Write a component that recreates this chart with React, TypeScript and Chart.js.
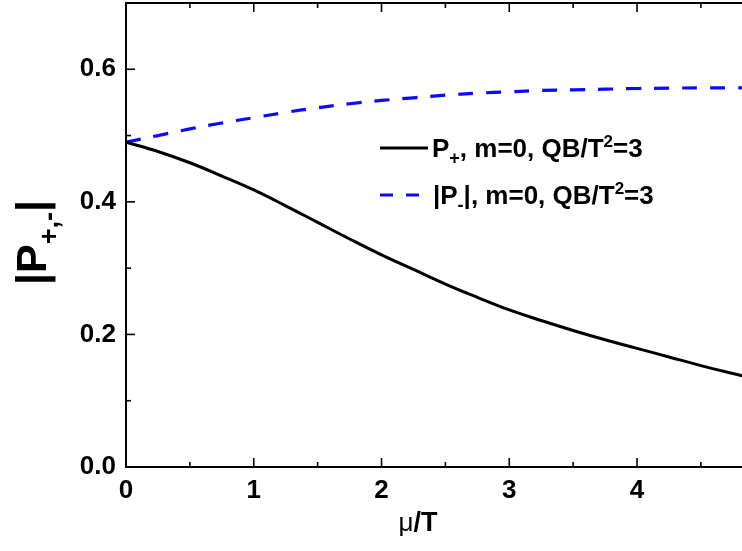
import { useEffect, useRef } from "react";
import { Chart, registerables } from "chart.js";

Chart.register(...registerables);

// μ/T sample points
const MU_OVER_T = [0, 0.25, 0.5, 0.75, 1, 1.25, 1.5, 1.75, 2, 2.25, 2.5, 2.75, 3, 3.25, 3.5, 3.75, 4, 4.25, 4.5, 4.75, 5];
// P+ , m=0, QB/T^2=3
const P_PLUS = [0.49, 0.476, 0.459, 0.439, 0.418, 0.394, 0.369, 0.344, 0.32, 0.298, 0.276, 0.256, 0.237, 0.221, 0.206, 0.192, 0.179, 0.166, 0.153, 0.141, 0.13];
// |P-| , m=0, QB/T^2=3
const P_MINUS_ABS = [0.49, 0.5, 0.51, 0.519, 0.527, 0.535, 0.542, 0.548, 0.553, 0.557, 0.561, 0.564, 0.566, 0.568, 0.569, 0.57, 0.571, 0.5715, 0.572, 0.572, 0.5725];

const X_MIN = 0;
const X_MAX = 5;
const Y_MIN = 0;
const Y_MAX = 0.7;
const X_MAJOR = 1;
const X_MINOR = 0.5;
const Y_MAJOR = 0.2;
const Y_MINOR = 0.1;
const Y_LABEL_MAX = 0.6;

const FONT = '"Liberation Sans", Arial, Helvetica, sans-serif';
const BLUE = "#0a0aff";

type Part = { text: string; size: number; dy: number; bold?: boolean };

function drawParts(ctx: CanvasRenderingContext2D, parts: Part[], x: number, y: number) {
  let cx = x;
  for (const p of parts) {
    ctx.font = `${p.bold === false ? "" : "bold "}${p.size}px ${FONT}`;
    ctx.fillText(p.text, cx, y + p.dy);
    cx += ctx.measureText(p.text).width;
  }
  return cx;
}

const decorations = {
  id: "decorations",
  afterDraw(chart: any) {
    const { ctx, chartArea, scales } = chart;
    const { left, right, top, bottom } = chartArea;
    const xs = scales.x;
    const ys = scales.y;
    ctx.save();

    // frame
    ctx.strokeStyle = "#000";
    ctx.lineWidth = 2;
    ctx.strokeRect(left, top, right - left, bottom - top);

    // inward ticks on all four sides
    ctx.lineWidth = 1.6;
    const seg = (x1: number, y1: number, x2: number, y2: number) => {
      ctx.beginPath();
      ctx.moveTo(x1, y1);
      ctx.lineTo(x2, y2);
      ctx.stroke();
    };
    const nx = Math.round((X_MAX - X_MIN) / X_MINOR);
    for (let i = 0; i <= nx; i++) {
      const v = X_MIN + i * X_MINOR;
      const major = Math.abs(v / X_MAJOR - Math.round(v / X_MAJOR)) < 1e-6;
      const len = major ? 9 : 5;
      const px = xs.getPixelForValue(v);
      seg(px, bottom, px, bottom - len);
      seg(px, top, px, top + len);
    }
    const ny = Math.round((Y_MAX - Y_MIN) / Y_MINOR);
    for (let i = 0; i <= ny; i++) {
      const v = Y_MIN + i * Y_MINOR;
      const major = Math.abs(v / Y_MAJOR - Math.round(v / Y_MAJOR)) < 1e-6;
      const len = major ? 9 : 5;
      const py = ys.getPixelForValue(v);
      seg(left, py, left + len, py);
      seg(right, py, right - len, py);
    }

    // legend
    ctx.fillStyle = "#000";
    ctx.textBaseline = "alphabetic";
    ctx.textAlign = "left";
    ctx.lineWidth = 3;
    ctx.strokeStyle = "#000";
    seg(380, 148, 428, 148);
    drawParts(
      ctx,
      [
        { text: "P", size: 26, dy: 0 },
        { text: "+", size: 18, dy: 7 },
        { text: ", m=0, QB/T", size: 26, dy: 0 },
        { text: "2", size: 17, dy: -10 },
        { text: "=3", size: 26, dy: 0 },
      ],
      432,
      157
    );
    ctx.strokeStyle = BLUE;
    ctx.setLineDash([13, 13]);
    seg(380, 195, 422, 195);
    ctx.setLineDash([]);
    drawParts(
      ctx,
      [
        { text: "|P", size: 26, dy: 0 },
        { text: "-", size: 18, dy: 7 },
        { text: "|, m=0, QB/T", size: 26, dy: 0 },
        { text: "2", size: 17, dy: -10 },
        { text: "=3", size: 26, dy: 0 },
      ],
      433,
      204
    );

    // x-axis title
    ctx.font = `26px ${FONT}`;
    const muW = ctx.measureText("μ").width;
    ctx.font = `bold 27px ${FONT}`;
    const restW = ctx.measureText("/T").width;
    const tx = 418 - (muW + restW) / 2;
    drawParts(
      ctx,
      [
        { text: "μ", size: 26, dy: 0, bold: false },
        { text: "/T", size: 27, dy: 0 },
      ],
      tx,
      531
    );

    // y-axis title, rotated
    ctx.save();
    ctx.translate(46, 285);
    ctx.rotate(-Math.PI / 2);
    drawParts(
      ctx,
      [
        { text: "|P", size: 43, dy: 0 },
        { text: "+,-", size: 27, dy: 12 },
        { text: "|", size: 43, dy: 0 },
      ],
      0,
      0
    );
    ctx.restore();

    ctx.restore();
  },
};

export default function App() {
  const canvasRef = useRef<HTMLCanvasElement | null>(null);

  useEffect(() => {
    const canvas = canvasRef.current;
    if (!canvas) return;
    const tickFont = { family: FONT, size: 26, weight: "bold" as const };
    const chart = new Chart(canvas, {
      type: "line",
      data: {
        datasets: [
          {
            label: "P+",
            data: MU_OVER_T.map((x, i) => ({ x, y: P_PLUS[i] })),
            borderColor: "#000",
            borderWidth: 3,
            pointRadius: 0,
            tension: 0.4,
            fill: false,
          },
          {
            label: "|P-|",
            data: MU_OVER_T.map((x, i) => ({ x, y: P_MINUS_ABS[i] })),
            borderColor: BLUE,
            borderWidth: 3.2,
            borderDash: [15, 13],
            pointRadius: 0,
            tension: 0.4,
            fill: false,
          },
        ],
      },
      options: {
        responsive: false,
        animation: false,
        layout: { padding: { top: 3, right: 4, left: 0, bottom: 0 } },
        plugins: { legend: { display: false }, tooltip: { enabled: false } },
        scales: {
          x: {
            type: "linear",
            min: X_MIN,
            max: X_MAX,
            grid: { display: false, drawTicks: false },
            border: { display: false },
            ticks: {
              stepSize: X_MAJOR,
              color: "#000",
              font: tickFont,
              padding: 8,
              maxRotation: 0,
              callback: (v: any) => String(v),
            },
            afterFit: (s: any) => {
              s.height = 84;
            },
          },
          y: {
            min: Y_MIN,
            max: Y_MAX,
            grid: { display: false, drawTicks: false },
            border: { display: false },
            ticks: {
              stepSize: Y_MAJOR,
              color: "#000",
              font: tickFont,
              padding: 10,
              callback: (v: any) => Number(v).toFixed(1),
            },
            afterBuildTicks: (s: any) => {
              s.ticks = s.ticks.filter((t: any) => t.value <= Y_LABEL_MAX + 1e-6);
            },
            afterFit: (s: any) => {
              s.width = 126;
              s.paddingTop = 0;
            },
          },
        },
      },
      plugins: [decorations],
    });
    return () => chart.destroy();
  }, []);

  return (
    <div
      style={{
        position: "absolute",
        left: 0,
        top: 0,
        width: 742,
        height: 551,
        overflow: "hidden",
        background: "#fff",
      }}
    >
      <canvas ref={canvasRef} width={780} height={551} style={{ display: "block" }} />
    </div>
  );
}
